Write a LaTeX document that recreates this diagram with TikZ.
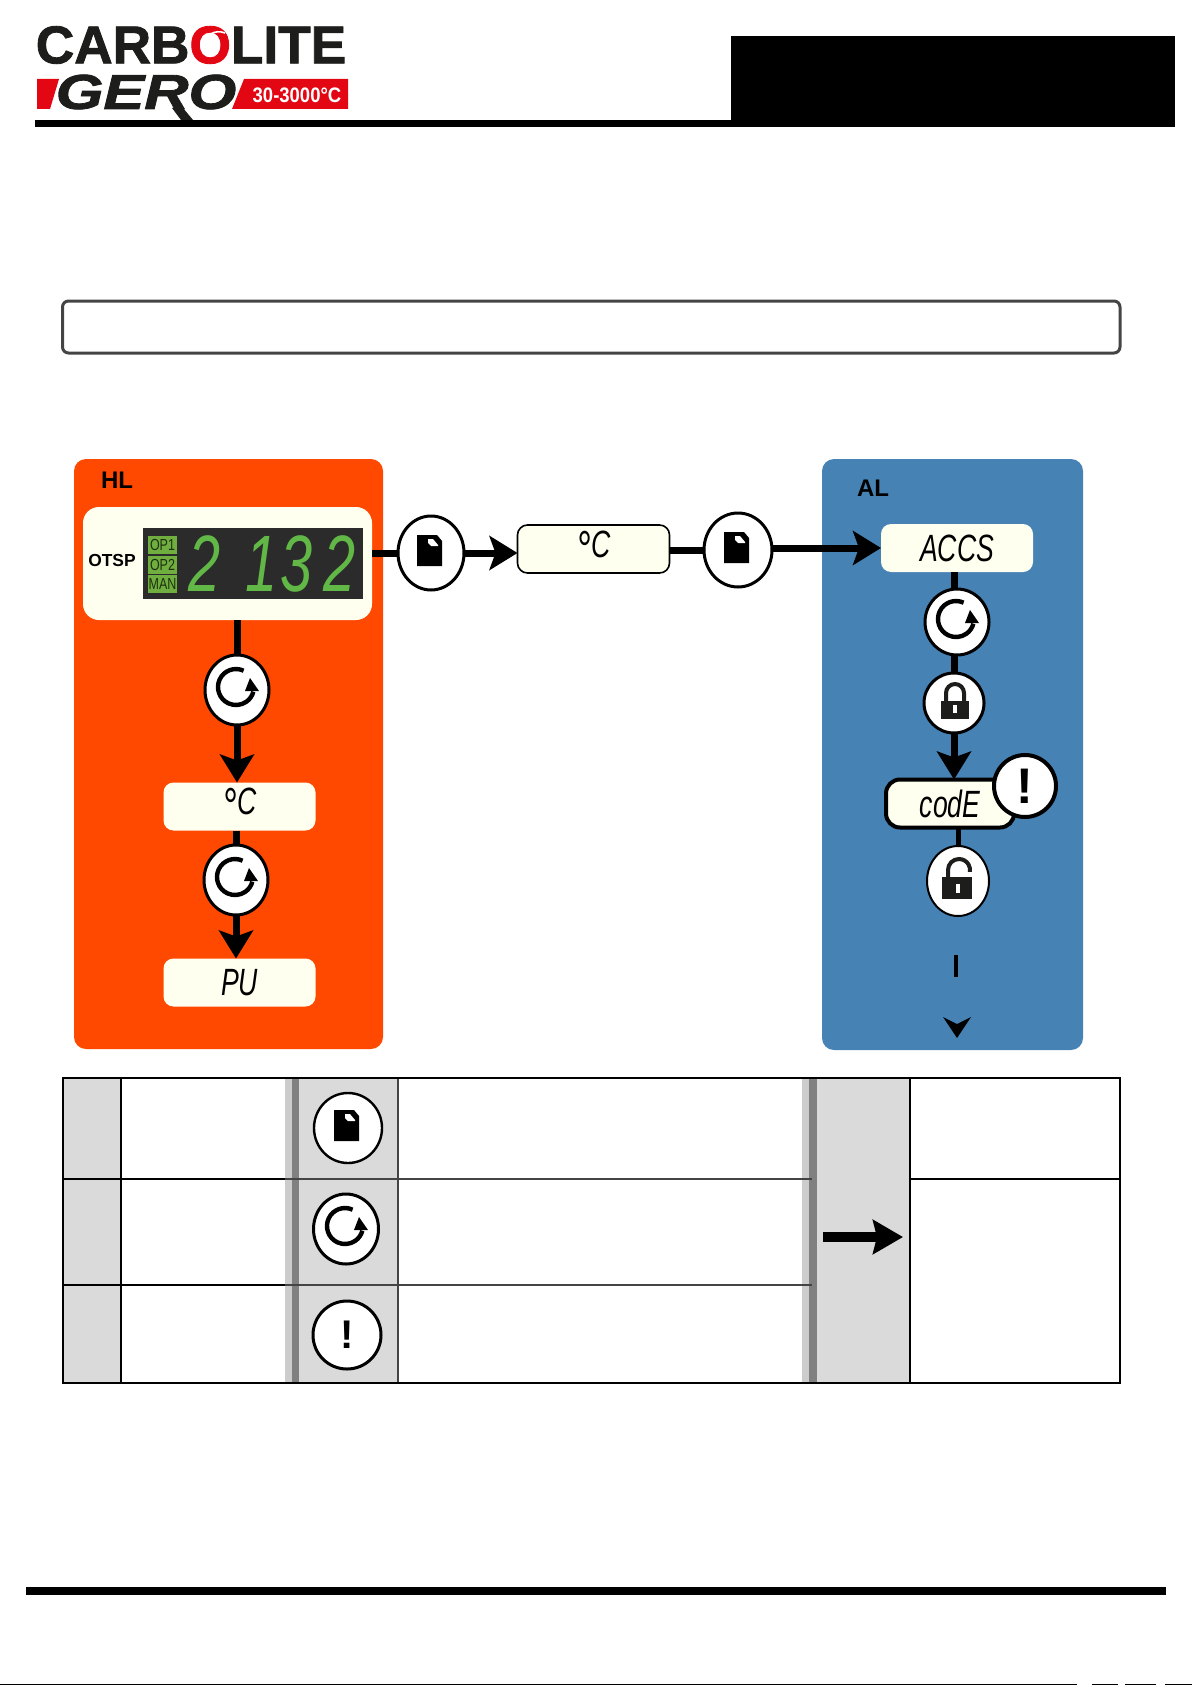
\documentclass[tikz,border=0pt]{standalone}
\usepackage{fontspec}
\setmainfont{Liberation Sans}
\newfontfamily\logofont{Liberation Sans}[BoldFeatures={FakeBold=1.6},BoldItalicFeatures={FakeBold=1.6}]
\usetikzlibrary{positioning,arrows.meta,calc,shapes.geometric}
\definecolor{hlpanel}{HTML}{FF4800}
\definecolor{alpanel}{HTML}{4682B4}
\definecolor{cream}{HTML}{FFFFF0}
\definecolor{logored}{HTML}{E30613}
\definecolor{logoink}{HTML}{1D1D1B}
\definecolor{cellgrey}{HTML}{DADADA}
\definecolor{edgelight}{HTML}{CCCCCC}
\definecolor{edgedark}{HTML}{808080}
\definecolor{framegrey}{HTML}{444444}
\definecolor{lcdback}{HTML}{2B2B2B}
\definecolor{lcdgreen}{HTML}{62B846}
\definecolor{opgreen}{HTML}{6FAE3F}
\definecolor{opink}{HTML}{1E3210}
\newcommand{\lcd}[1]{\scalebox{.7}[1]{\itshape\fontsize{19}{19}\selectfont #1}}
\newcommand{\lcddeg}{\raisebox{-5pt}{\fontsize{26}{26}\selectfont °}}
\tikzset{
  bar/.style={line width=3.5pt},
  flow/.style={-{Stealth[length=14pt,width=17pt,inset=3pt]}, line width=3.5pt},
  panel/.style={rounded corners=6pt, fill=#1, inner sep=0pt, outer sep=0pt},
  lcdbox/.style={rounded corners=5pt, fill=cream, minimum width=76pt, minimum height=24pt,
    inner sep=0pt, outer sep=0pt},
  keycap/.style={ellipse, draw=black, fill=white, line width=1.5pt, inner sep=0pt, outer sep=0pt},
  oplab/.style={fill=opgreen, text=opink, minimum width=14.5pt, minimum height=9pt, inner sep=0pt},
  lab/.style={font=\fontsize{12}{12}\selectfont\bfseries, text=black},
  bang/.style={font=\fontsize{#1}{#1}\selectfont\bfseries},
}
\begin{document}
\begin{tikzpicture}[x=0.5pt,y=-0.5pt]
  \useasboundingbox (0,0) rectangle (1192,1685);

  \node[inner sep=0pt,text=logoink,font=\logofont\fontsize{26.6}{26.6}\selectfont\bfseries] (carbolite) at (191,45)
    {CARB{\color{logored}O}LITE};
  \draw[white,line width=.8pt] (225,33) .. controls (215,29) and (205,35) .. (204,45);
  \fill[logored] (37,79) -- (59,79) -- (50,109) -- (37,109) -- cycle;
  \fill[logored] (244,79) -- (348,79) -- (348,109) -- (232,109) -- cycle;
  \node[inner sep=0pt,text=logoink,font=\logofont\fontsize{24.5}{24.5}\selectfont\bfseries\itshape] (gero) at (146,92)
    {\scalebox{1.25}[1]{GERO}};
  \fill[logoink] (172,108) -- (183,108) -- (193,120) -- (181,120) -- cycle;
  \node[inner sep=0pt,text=white,font=\fontsize{10.5}{10.5}\selectfont\bfseries] (range) at (297,95)
    {\scalebox{.88}[1]{30-3000°C}};

  \fill[black] (731,36) rectangle (1175,127);
  \fill[black] (35,120) rectangle (1175,127);
  \draw[framegrey,line width=1.5pt,rounded corners=3pt] (62.5,301) rectangle (1120,353);

  \node[panel=hlpanel,minimum width=154.5pt,minimum height=295pt] (hl) at (228.5,754) {};
  \node[panel=alpanel,minimum width=130.5pt,minimum height=295.5pt] (al) at (952.5,754.5) {};
  \node[lab] (hltitle) at (117,480) {HL};
  \node[lab] (altitle) at (873,488) {AL};

  \node[lcdbox,rounded corners=8pt,minimum width=144.5pt,minimum height=56.5pt] (otsp) at (227.5,563.5) {};
  \node[font=\fontsize{8.7}{8.7}\selectfont\bfseries] (otsplab) at (112,561) {OTSP};
  \node[fill=lcdback,minimum width=110pt,minimum height=35.5pt,inner sep=0pt] (display) at (253,563.5) {};
  \foreach \t/\y [count=\i] in {OP1/544.5,OP2/565,MAN/584} {
    \node[oplab,font=\fontsize{8}{8}\selectfont] (op\i) at (162.5,\y) {\scalebox{.78}[1]{\t}};
  }
  \foreach \d/\x [count=\i] in {2/205,1/262,3/297,2/340} {
    \node[inner sep=0pt,text=lcdgreen,font=\fontsize{40}{40}\selectfont\itshape] (dig\i) at (\x,563.5) {\scalebox{.72}[1]{\d}};
  }

  \node[keycap,minimum width=33pt,minimum height=37pt] (docone) at (431,553) {};
  \node[lcdbox,draw=black,line width=.8pt] (degmid) at (593.5,549) {\lcd{\lcddeg C}};
  \node[keycap,minimum width=34pt,minimum height=37pt] (doctwo) at (738,550) {};
  \node[lcdbox,minimum width=76pt] (accs) at (957,548) {\lcd{ACCS}};

  \node[keycap,minimum width=32pt,minimum height=35pt] (rfone) at (237,690) {};
  \node[lcdbox] (deghl) at (239.5,806.5) {\lcd{\lcddeg C}};
  \node[keycap,minimum width=32pt,minimum height=35pt] (rftwo) at (236,880) {};
  \node[lcdbox] (pu) at (239.5,982.5) {\lcd{PU}};

  \node[keycap,minimum width=32pt,minimum height=33pt] (rfal) at (957,622) {};
  \node[keycap,minimum width=30pt,minimum height=30pt] (lockal) at (954,703) {};
  \node[lcdbox,draw=black,line width=2pt,rounded corners=7pt,minimum width=64pt,minimum height=24pt] (code) at (950,803.5) {\lcd{codE}};
  \node[keycap,minimum width=31pt,minimum height=31pt,line width=2pt,bang=25] (bangal) at (1025,786) {!};
  \node[keycap,line width=1pt,minimum width=31pt,minimum height=35pt] (unlockal) at (958,881) {};

  \coordinate (dashtop) at (956,955);
  \coordinate (dashbot) at (956,977);

  \draw[bar] (otsp.east |- docone) -- (docone);
  \draw[flow] (docone) -- (docone -| degmid.west);
  \draw[bar] (degmid.east |- doctwo) -- (doctwo);
  \draw[flow] (doctwo.east |- accs) -- (accs.west);
  \draw[bar] (rfone |- otsp.south) -- (rfone.north);
  \draw[flow] (rfone.south) -- (rfone |- deghl.north);
  \draw[bar] (rftwo |- deghl.south) -- (rftwo.north);
  \draw[flow] (rftwo.south) -- (rftwo |- pu.north);
  \draw[bar] (lockal |- accs.south) -- (lockal |- rfal.north);
  \draw[bar] (lockal |- rfal.south) -- (lockal.north);
  \draw[flow] (lockal.south) -- (lockal |- code.north);
  \draw[line width=2.5pt] (unlockal |- code.south) -- (unlockal.north);
  \draw[line width=2pt] (dashtop) -- (dashbot);
  \fill[black] (957,1038) -- (943,1017) -- (957,1024) -- (971,1017) -- cycle;

  \fill[cellgrey] (63,1078) rectangle (121,1383);
  \fill[cellgrey] (299,1078) rectangle (398,1383);
  \fill[cellgrey] (817,1078) rectangle (910,1383);
  \fill[edgelight] (285,1078) rectangle (292,1383);
  \fill[edgedark] (292,1078) rectangle (299,1383);
  \fill[edgelight] (802,1078) rectangle (809,1383);
  \fill[edgedark] (809,1078) rectangle (817,1383);
  \draw[black,line width=1pt] (121,1078) -- (121,1383);
  \draw[framegrey,line width=.8pt] (398,1078) -- (398,1383);
  \draw[black,line width=.8pt] (910,1078) -- (910,1383);
  \draw[black,line width=.8pt] (63,1179) -- (285,1179);
  \draw[black,line width=.8pt] (63,1285) -- (285,1285);
  \draw[framegrey,line width=.8pt] (285,1179) -- (812,1179);
  \draw[framegrey,line width=.8pt] (285,1285) -- (812,1285);
  \draw[black,line width=1pt] (910,1179) -- (1120,1179);
  \draw[black,line width=1.1pt] (63,1078) rectangle (1120,1383);

  \node[keycap,line width=1.2pt,fill=white,minimum width=34pt,minimum height=35pt] (doctab) at (348,1128) {};
  \node[keycap,line width=1.5pt,fill=white,minimum width=32.5pt,minimum height=35pt] (rftab) at (346,1229) {};
  \node[keycap,line width=1.5pt,fill=white,minimum width=34pt,minimum height=34pt,bang=20] (bangtab) at (347,1335) {!};

  \coordinate (legfrom) at (823,1237);
  \coordinate (legto) at (903,1237);
  \draw[-{Stealth[length=15pt,width=17pt,inset=2pt]},line width=5pt] (legfrom) -- (legto);

  \foreach \n in {docone,doctwo,doctab} {
    \fill[black] ($(\n)+(-14,-18)$) -- ++(20,0) -- ++(5,6) -- ++(0,25) -- ++(-25,0) -- cycle;
    \fill[white] ($(\n)+(-3,-14)$) -- ++(5,0) -- ++(5,6) -- ++(0,1) -- ++(-7,0) -- ++(-3,-3) -- cycle;
  }
  \foreach \n in {rfone,rftwo,rfal,rftab} {
    \draw[line width=2.2pt] ($(\n)+(6.6,-19.3)$) arc[start angle=295,end angle=15,radius=18];
    \fill[black] ($(\n)+(13,-12)$) -- ++(9,13) -- ++(-14,0) -- cycle;
  }
  \fill[logoink] ($(lockal)+(-13,-2)$) rectangle ($(lockal)+(15,16)$);
  \draw[logoink,line width=2pt] ($(lockal)+(-8,-2)$) -- ++(0,-8) arc[start angle=180,end angle=360,radius=9] -- ++(0,8);
  \fill[white] ($(lockal)+(-1,2)$) rectangle ($(lockal)+(3,10)$);
  \fill[logoink] ($(unlockal)+(-16,-4)$) rectangle ($(unlockal)+(14,18)$);
  \draw[logoink,line width=2pt] ($(unlockal)+(-10,-4)$) -- ++(0,-7) arc[start angle=180,end angle=370,radius=11];
  \fill[white] ($(unlockal)+(-2,3)$) rectangle ($(unlockal)+(2,12)$);

  \fill[black] (26,1587) rectangle (1166,1595);
  \fill[black] (0,1684) rectangle (1077,1685);
  \foreach \a/\b in {1092/1118,1125/1156,1165/1192} {
    \fill[black] (\a,1684) rectangle (\b,1685);
  }
\end{tikzpicture}
\end{document}
